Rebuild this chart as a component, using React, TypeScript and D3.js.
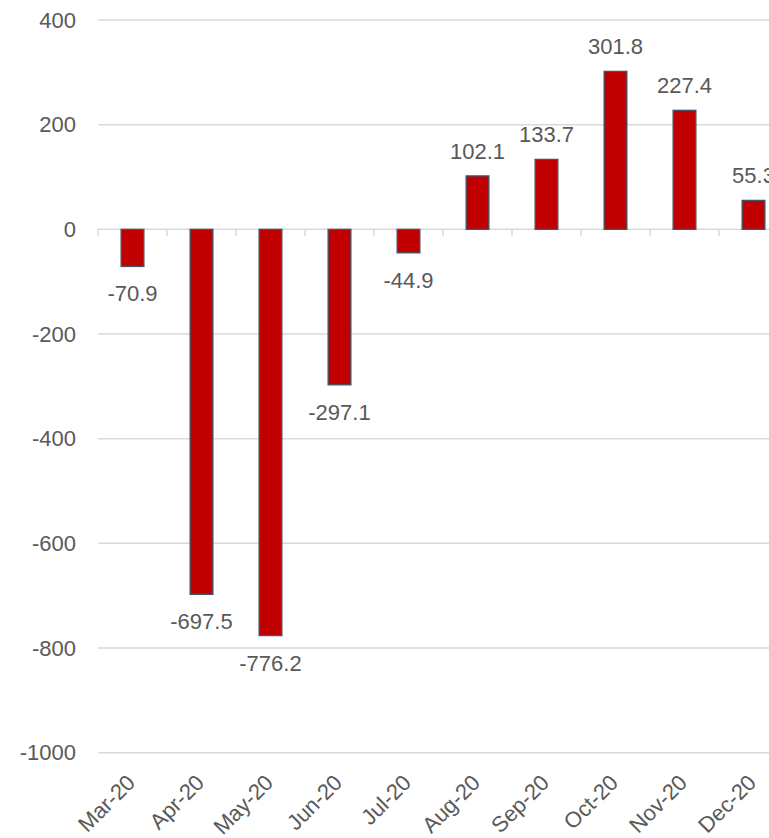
import React from "react";
import * as d3 from "d3";

// Monthly change, Mar-20 to Dec-20
const months = ["Mar-20", "Apr-20", "May-20", "Jun-20", "Jul-20", "Aug-20", "Sep-20", "Oct-20", "Nov-20", "Dec-20"];
const changes = [-70.9, -697.5, -776.2, -297.1, -44.9, 102.1, 133.7, 301.8, 227.4, 55.3];
const yTicks = [400, 200, 0, -200, -400, -600, -800, -1000];

const W = 769;
const H = 838;
const FONT = "'Liberation Sans', Arial, sans-serif";
const TEXT = "#595959";
const GRID = "#D9D9D9";

export default function App() {
  const x = d3.scaleBand<string>().domain(months).range([98, 788]).padding(0);
  const y = d3.scaleLinear().domain([-1000, 400]).range([752.7, 20]);
  const step = x.step();
  const barW = step * 0.33;
  const y0 = y(0);

  return (
    <svg
      width={W}
      height={H}
      style={{ position: "absolute", left: 0, top: 0, background: "#fff" }}
      fontFamily={FONT}
    >
      {/* horizontal gridlines and value axis labels */}
      {yTicks.map((t) => (
        <g key={t}>
          <line x1={98} x2={788} y1={y(t)} y2={y(t)} stroke={GRID} strokeWidth={1.5} />
          <text x={76} y={y(t)} dy="0.35em" textAnchor="end" fontSize={22} fill={TEXT}>
            {t}
          </text>
        </g>
      ))}

      {/* category tick marks along zero line */}
      {d3.range(months.length + 1).map((i) => {
        const xx = 98 + i * step;
        return <line key={i} x1={xx} x2={xx} y1={y0} y2={y0 + 7} stroke={GRID} strokeWidth={1.5} />;
      })}

      {/* bars */}
      {months.map((m, i) => {
        const v = changes[i];
        const cx = (x(m) as number) + step / 2;
        const top = Math.min(y(v), y0);
        const h = Math.abs(y(v) - y0);
        return (
          <rect
            key={m}
            x={cx - barW / 2}
            y={top}
            width={barW}
            height={h}
            fill="#C00000"
            stroke="#44546A"
            strokeWidth={1.3}
          />
        );
      })}

      {/* value labels */}
      {months.map((m, i) => {
        const v = changes[i];
        const cx = (x(m) as number) + step / 2;
        const ly = v >= 0 ? y(v) - 17 : y(v) + 35;
        return (
          <text key={m} x={cx} y={ly} textAnchor="middle" fontSize={22} fill={TEXT}>
            {v.toFixed(1)}
          </text>
        );
      })}

      {/* rotated category labels */}
      {months.map((m) => {
        const cx = (x(m) as number) + step / 2;
        return (
          <text
            key={m}
            transform={`translate(${cx + 4},${784}) rotate(-45)`}
            textAnchor="end"
            fontSize={22}
            fill={TEXT}
          >
            {m}
          </text>
        );
      })}
    </svg>
  );
}
